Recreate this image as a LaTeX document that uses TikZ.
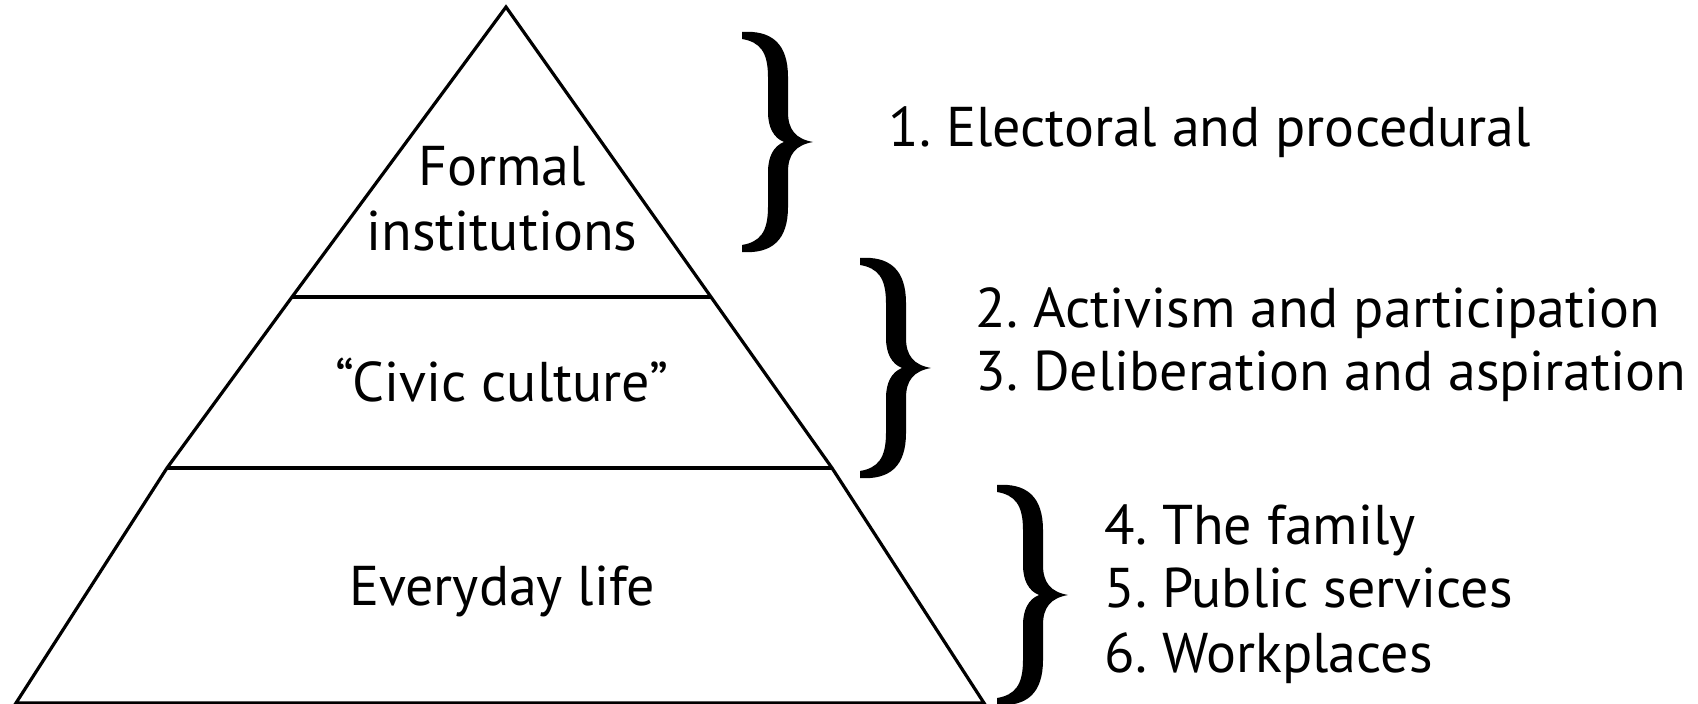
\documentclass[tikz,border=0pt]{standalone}
\usepackage{fontspec}
\setmainfont{PT Sans}
\frenchspacing
% outline of one curly brace, 71 x 220, tip pointing right
\newcommand\bracepath{(0,0) .. controls (30,-2) and (46,12) .. (46,45) -- (46,80)
  .. controls (46,98) and (54,107) .. (71,110)
  .. controls (54,113) and (46,122) .. (46,140) -- (46,175)
  .. controls (46,208) and (30,222) .. (0,220) -- (0,213)
  .. controls (18,210) and (26,200) .. (26,175) -- (26,140)
  .. controls (26,124) and (32,114) .. (42,110)
  .. controls (32,106) and (26,96) .. (26,80) -- (26,45)
  .. controls (26,20) and (18,10) .. (0,7) -- cycle}
\tikzset{every picture/.style={line width=0.75pt}}
\tikzset{
  side/.style={line width=1.6pt, line join=miter},
  tier/.style={line width=2pt},
  label/.style={inner sep=0pt, font=\fontsize{28}{32.5}\selectfont},
}
\begin{document}
\begin{tikzpicture}[x=0.5pt,y=0.5pt,yscale=-1,xscale=1]
\useasboundingbox (0,0) rectangle (1698,704);

%Pyramid corners
\coordinate (apex) at (506,7);
\coordinate (t1l) at (292,297);
\coordinate (t1r) at (711,297);
\coordinate (t2l) at (167,468);
\coordinate (t2r) at (832,468);
\coordinate (bl) at (16,703);
\coordinate (br) at (984,703);

%Outline
\draw [side] (apex) -- (t1r) -- (t2r) -- (br) -- (bl) -- (t2l) -- (t1l) -- cycle;
%Straight Lines
\draw [tier] (t1l) -- (t1r);
%Straight Lines
\draw [tier] (t2l) -- (t2r);

% Braces
\fill [shift={(742,32)}] \bracepath;
\fill [shift={(860,258)}] \bracepath;
\fill [shift={(997,485)}] \bracepath;

% Text Node
\node (formal) [label, align=center] at (502,199) {Formal\\institutions};
% Text Node
\node (civic) [label, anchor=base] at (502,402) {“Civic culture”};
% Text Node
\node (everyday) [label, anchor=base] at (502,606) {Everyday life};

% Text Node
\node (elect) [label, anchor=base west] at (888,147) {1. Electoral and procedural};
% Text Node
\node (activ) [label, anchor=base west] at (975,328) {2. Activism and participation};
% Text Node
\node (delib) [label, anchor=base west] at (975,391) {3. Deliberation and aspiration};
% Text Node
\node (family) [label, anchor=base west] at (1104,545) {4. The family};
% Text Node
\node (public) [label, anchor=base west] at (1104,608) {5. Public services};
% Text Node
\node (work) [label, anchor=base west] at (1104,673) {6. Workplaces};
\end{tikzpicture}
\end{document}
